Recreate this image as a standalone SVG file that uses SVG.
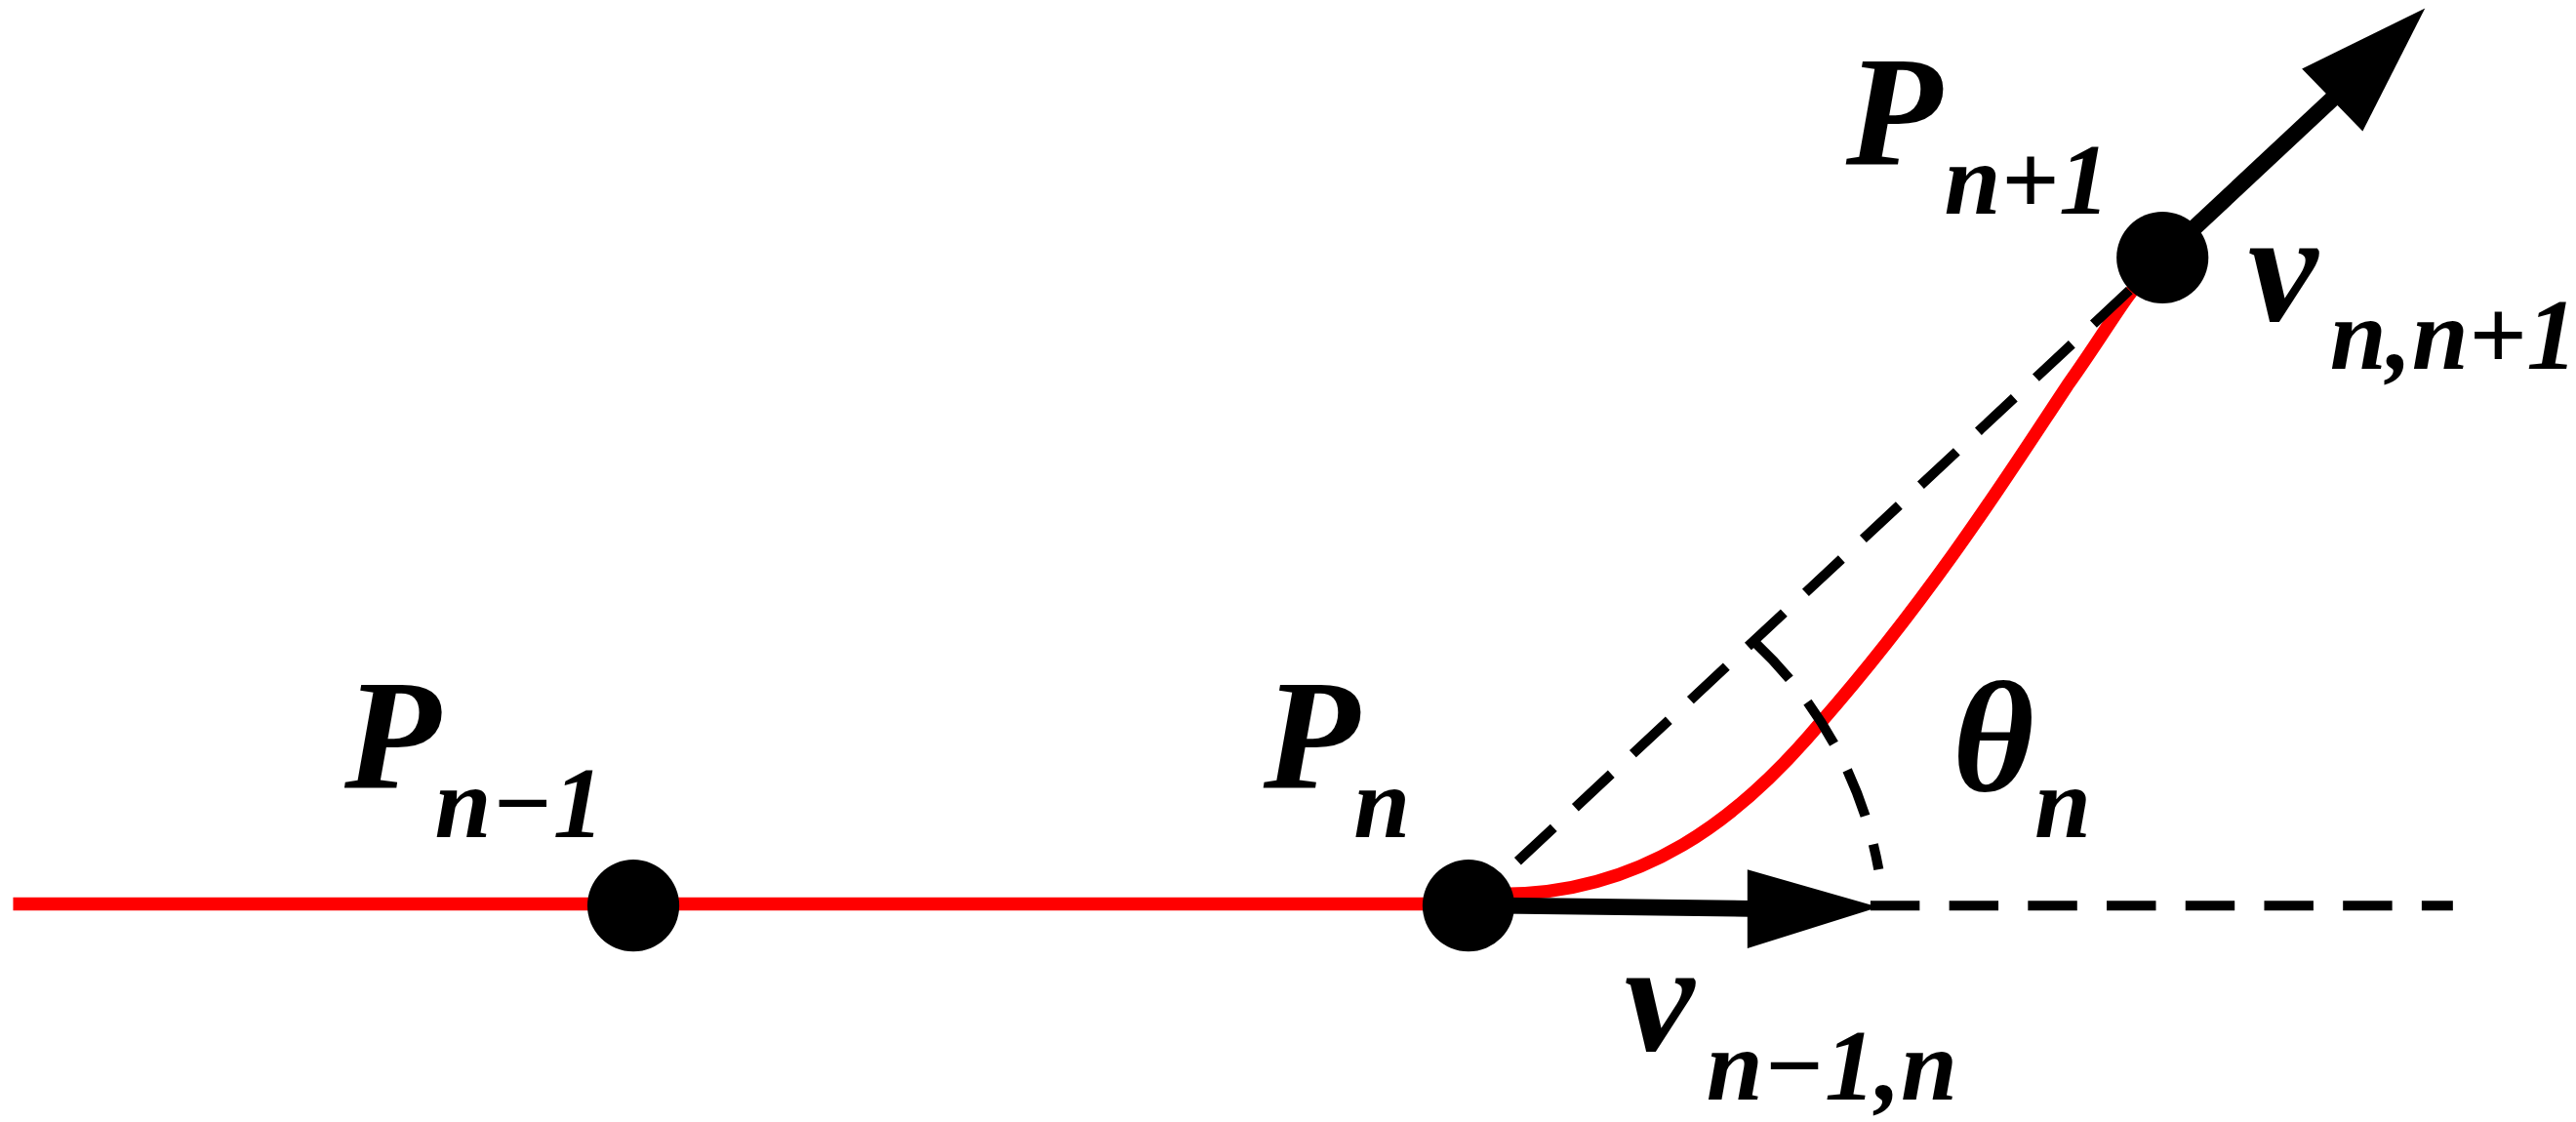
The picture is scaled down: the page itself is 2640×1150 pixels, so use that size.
<svg xmlns="http://www.w3.org/2000/svg" width="2640" height="1150" viewBox="0 0 2640 1150">
<style>
.t{font-family:"Liberation Serif","Times New Roman",serif;font-style:italic;font-weight:bold;fill:#000}
.m{font-size:96px}.s{font-size:62px}
.d{stroke:#000;stroke-width:6;fill:none;stroke-dasharray:30 18}
</style>
<rect width="2640" height="1150" fill="#fff"/>
<g transform="scale(1.6815)">
<g id="connectors">
<line x1="8" y1="551" x2="900" y2="551" stroke="#f00" stroke-width="8"/>
<path d="M915,545 C1000,545 1060,500 1110,440 C1180,360 1230,280 1260,235 C1285,200 1295,180 1310,165" stroke="#f00" stroke-width="8" fill="none"/>
<line class="d" x1="925" y1="525" x2="1300" y2="175"/>
<line class="d" x1="1140" y1="552" x2="1495" y2="552"/>
<path class="d" d="M1070,392 A250,250 0 0 1 1145,530"/>
<line x1="915" y1="552" x2="1075" y2="554" stroke="#000" stroke-width="10"/>
<polygon points="1065,530 1145,553 1065,578" fill="#000"/>
<line x1="1318" y1="157" x2="1425" y2="57" stroke="#000" stroke-width="10"/>
<polygon points="1478,5 1440,80 1403,42" fill="#000"/>
</g>
<g id="node-pn1"><circle cx="386" cy="552" r="28" fill="#000"/>
<text class="t m" x="210" y="480">P</text><text class="t s" x="265" y="510">n−1</text></g>
<g id="node-pn"><circle cx="895" cy="552" r="28" fill="#000"/>
<text class="t m" x="770" y="480">P</text><text class="t s" x="825" y="510">n</text></g>
<g id="node-pnp1"><circle cx="1318" cy="157" r="28" fill="#000"/>
<text class="t m" x="1125" y="100">P</text><text class="t s" x="1185" y="130">n+1</text></g>
<g id="labels">
<text class="t m" x="1370" y="195">v</text><text class="t s" x="1420" y="225">n,n+1</text>
<text class="t m" x="1190" y="482">θ</text><text class="t s" x="1240" y="510">n</text>
<text class="t m" x="990" y="640">v</text><text class="t s" x="1040" y="670">n−1,n</text>
</g>
</g>
</svg>
